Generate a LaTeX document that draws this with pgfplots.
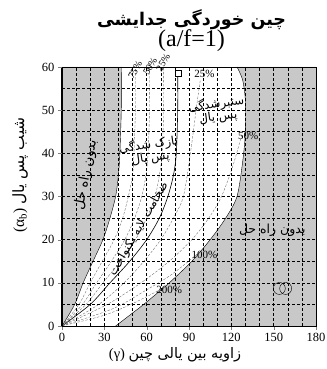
\documentclass[border=0pt]{standalone}
\usepackage{pgfplots}
\pgfplotsset{compat=1.18}
\usepgfplotslibrary{fillbetween}
\usepackage{fontspec}
\setmainfont{Liberation Serif}
\newfontfamily\fa[Script=Arabic]{DejaVu Sans}
\TeXXeTstate=1
\definecolor{regiongray}{RGB}{200,200,200}

\begin{document}
\begin{tikzpicture}
\begin{axis}[
    width=254pt, height=259pt, scale only axis,
    xmin=0, xmax=180, ymin=0, ymax=60,
    xtick={0,30,...,180}, ytick={0,10,...,60},
    minor xtick={10,20,40,50,70,80,100,110,130,140,160,170},
    minor ytick={5,15,...,55},
    grid=both,
    grid style={black, dash pattern=on 3pt off 2pt, line width=0.5pt},
    minor grid style={black, dash pattern=on 3pt off 2pt, line width=0.5pt},
    tick align=outside, tick pos=left,
    major tick length=4pt, minor tick length=0pt,
    axis on top, clip=false,
    ticklabel style={font=\fontsize{12.5}{12.5}\selectfont},
    /pgf/number format/assume math mode=true,
    xlabel={\fontsize{14.5}{16}\selectfont(γ) {\fa\beginR زاویه بین یالی چین\endR}},
    xlabel style={at={(axis description cs:0.445,-0.112)}, anchor=center},
    ylabel={\fontsize{15.5}{17}\selectfont(α\textsubscript{b}) {\fa\beginR شیب پس یال\endR}},
    ylabel style={at={(axis description cs:-0.165,0.583)}, anchor=center},
]

% boundaries
\addplot[black, thin, smooth, name path=L] coordinates {
    (0,0) (9,5) (15,10) (22,15) (29,20) (34,25) (38,30) (40,35) (41,40) (42,50) (42,60)
};
\addplot[draw=none, name path=LL] coordinates {(0,0) (0,60)};
\addplot[fill=regiongray, draw=none] fill between[of=L and LL];

\addplot[black, thin, smooth, name path=R] coordinates {
    (38,0) (48,2.5) (59,5.3) (76,10) (92,15) (105,20) (116,25) (124,30) (128,38) (130,45) (130,52) (128,57) (124,60)
};
\addplot[draw=none, name path=RR] coordinates {(180,0) (180,60)};
\addplot[fill=regiongray, draw=none] fill between[of=R and RR];

% constant thickness
\addplot[black, semithick, smooth] coordinates {
    (0,0) (20,5) (34,10) (48,15) (60,20) (69,25) (75,30) (79,35) (81,40) (82,50) (82,58.5)
};
\addplot[only marks, mark=square*, mark size=3pt, mark options={fill=white, draw=black}] coordinates {(82,58.5)};

% thinning contours
\pgfplotsset{cont/.style={gray!80!black, line width=0.35pt, dash pattern=on 2.5pt off 1.5pt, smooth}}
\addplot[cont] coordinates {(0,0) (12,5) (20,10) (28.5,15) (37,20) (43,25) (47,30) (50,35) (51,40) (52,50) (52,60)};
\addplot[cont] coordinates {(0,0) (14.5,5) (24.5,10) (35,15) (44.5,20) (51.5,25) (56.5,30) (59.5,35) (61,40) (62,50) (62,60)};
\addplot[cont] coordinates {(0,0) (17,5) (29,10) (41.5,15) (52,20) (60,25) (66,30) (69,35) (71,40) (72,50) (72,60)};

% thickening contours
\addplot[cont] coordinates {(0,0) (26,5) (44,10) (58,15) (70,20) (79,25) (86,30) (91,40) (95,50) (98,57)};
\addplot[cont] coordinates {(0,0) (32,5) (56,10) (76,15) (92,20) (104,25) (113,30) (121,37) (128,45)};
\addplot[cont] coordinates {(0,0) (36,4) (58,8) (78,12) (97,17)};
\addplot[cont] coordinates {(0,0) (30,2.5) (52,5.5) (70,8.5)};

% symbol
\addplot[only marks, mark=o, mark size=6pt, thin] coordinates {(154,8.7) (158.5,8.7)};

% labels
\node[font=\fontsize{10}{10}\selectfont, rotate=60] at (axis cs:51.8,59.3) {75\%};
\node[font=\fontsize{10}{10}\selectfont, rotate=60] at (axis cs:62.4,60.2) {50\%};
\node[font=\fontsize{10}{10}\selectfont, rotate=60] at (axis cs:71.6,61) {25\%};
\node[font=\fontsize{11}{11}\selectfont] at (axis cs:101,58.3) {25\%};
\node[font=\fontsize{11}{11}\selectfont] at (axis cs:132,44) {50\%};
\node[font=\fontsize{11}{11}\selectfont] at (axis cs:101,16.5) {100\%};
\node[font=\fontsize{11}{11}\selectfont] at (axis cs:76,8.3) {200\%};

\node[font=\fontsize{13.5}{15}\selectfont, rotate=79] at (axis cs:17,35) {\fa\beginR بدون راه حل\endR};
\node[font=\fontsize{12.5}{14}\selectfont] at (axis cs:149,22.2) {\fa\beginR بدون راه حل\endR};
\node[font=\fontsize{12}{13}\selectfont, align=center, rotate=8] at (axis cs:62,40.5)
    {{\fa\beginR نازک شدگی\endR}\\{\fa\beginR پس یال\endR}};
\node[font=\fontsize{12}{13}\selectfont, align=center, rotate=8] at (axis cs:110,50)
    {{\fa\beginR ستبرشدگی\endR}\\{\fa\beginR پس یال\endR}};
\node[font=\fontsize{12}{14}\selectfont, rotate=60] at (axis cs:54.5,22.5) {\fa\beginR ضخامت لایه یکنواخت\endR};

\draw[line width=1.2pt] (rel axis cs:0,0) -- (rel axis cs:0,1);
\node[align=center, anchor=south] at (rel axis cs:0.51,1) [yshift=12pt]
    {\fontsize{17.5}{19}\selectfont\bfseries{\fa\beginR چین خوردگی جدایشی\endR}\\[-1pt]\fontsize{24}{24}\selectfont(a/f=1)};

\coordinate (O) at (rel axis cs:0,0);
\coordinate (T) at (rel axis cs:1,1);
\end{axis}
\pgfresetboundingbox
\path[use as bounding box] ([xshift=-62pt,yshift=-43pt]O) rectangle ([xshift=10pt,yshift=67pt]T);
\end{tikzpicture}
\end{document}
